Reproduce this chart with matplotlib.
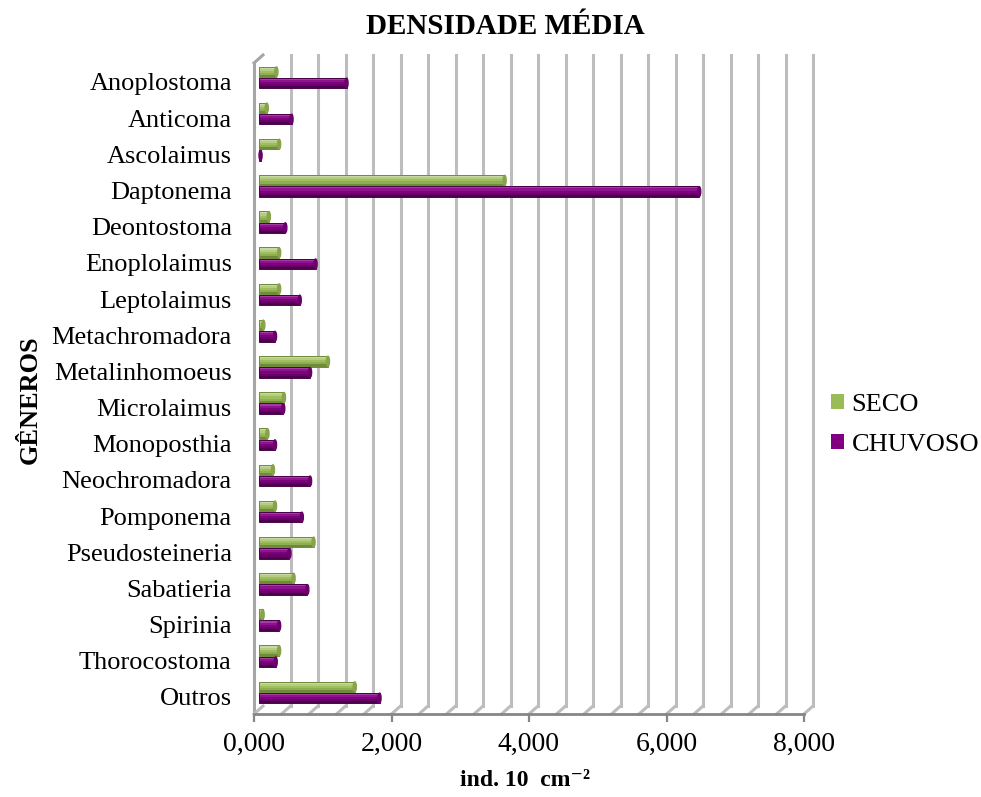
import matplotlib
matplotlib.use("Agg")
import matplotlib.pyplot as plt
from matplotlib.patches import Patch, Ellipse

plt.rcParams['font.family'] = ['Liberation Serif', 'DejaVu Serif']

generos = ['Anoplostoma', 'Anticoma', 'Ascolaimus', 'Daptonema', 'Deontostoma',
           'Enoplolaimus', 'Leptolaimus', 'Metachromadora', 'Metalinhomoeus',
           'Microlaimus', 'Monoposthia', 'Neochromadora', 'Pomponema',
           'Pseudosteineria', 'Sabatieria', 'Spirinia', 'Thorocostoma', 'Outros']
seco = [0.26, 0.12, 0.30, 3.58, 0.15, 0.30, 0.30, 0.07, 1.01, 0.37, 0.13,
        0.21, 0.24, 0.80, 0.51, 0.06, 0.30, 1.40]
chuvoso = [1.28, 0.48, 0.03, 6.41, 0.39, 0.83, 0.60, 0.24, 0.75, 0.36, 0.24,
           0.75, 0.63, 0.45, 0.71, 0.30, 0.25, 1.76]
xticks = [0, 2, 4, 6, 8]
xticklabels = ['0,000', '2,000', '4,000', '6,000', '8,000']

W, H = 981, 797
fig = plt.figure(figsize=(W / 100, H / 100), dpi=100)
ax = fig.add_axes([254 / W, (H - 714) / H, 550 / W, (714 - 55) / H])

y_bot, y_top = 17.47, -0.746
ax.set_xlim(0, 8)
ax.set_ylim(y_bot, y_top)
for s in ax.spines.values():
    s.set_visible(False)

# 3D depth offset of the back wall
dx, dy = 0.131, 0.22
grid_c = '#BDBDBD'
k = 1
while k <= 20:
    gx = 0.4 * k + dx
    ax.plot([gx, gx], [y_bot - dy, y_top], color=grid_c, lw=2.2, clip_on=False, zorder=1)
    ax.plot([gx, gx - dx], [y_bot - dy, y_bot], color=grid_c, lw=2.2, clip_on=False, zorder=1)
    k += 1
# left wall
ax.plot([0, 0], [y_bot, y_top + dy], color='#A6A6A6', lw=2.2, clip_on=False, zorder=1)
ax.plot([0, dx], [y_top + dy, y_top], color='#A6A6A6', lw=2.2, clip_on=False, zorder=1)
ax.plot([0, dx], [y_bot, y_bot - dy], color=grid_c, lw=2.2, clip_on=False, zorder=1)
# front edge of the floor
ax.plot([0, 8], [y_bot, y_bot], color='#868686', lw=2, clip_on=False, zorder=2)


def cylinder(y, w, h, shades, cap):
    n = len(shades)
    left = dx / 2
    for i, c in enumerate(shades):
        yc = y - h / 2 + (i + 0.5) * h / n
        ax.barh(yc, w, height=h / n, left=left, color=c, lw=0, zorder=3)
    ax.barh(y, w, height=h, left=left, facecolor='none', edgecolor=shades[-1],
            lw=0.7, zorder=3.5)
    ax.add_patch(Ellipse((left + w, y), 0.045, h * 0.95, color=cap, zorder=4))


green = ['#C7DBA0', '#B4CD82', '#9FBE5E', '#8FAE4F', '#6F8A38']
purple = ['#A33DA3', '#8F128F', '#800080', '#680068', '#4A004A']
bh = 0.29
for i in range(len(generos)):
    cylinder(i - 0.28, seco[i], bh, green, '#87A34C')
    cylinder(i + 0.03, chuvoso[i], bh, purple, '#6A006A')

ax.set_yticks(range(len(generos)))
ax.set_yticklabels(generos, fontsize=19)
ax.tick_params(axis='y', length=0, pad=16)
ax.set_xticks(xticks)
ax.set_xticklabels(xticklabels, fontsize=20)
ax.tick_params(axis='x', length=6, width=1.6, color='#868686', pad=7)

fig.text(505 / W, 1 - 27 / H, 'DENSIDADE MÉDIA', ha='center', va='center',
         fontsize=21, fontweight='bold')
fig.text(525 / W, 1 - 781 / H, 'ind. 10  cm⁻²', ha='center', va='center',
         fontsize=17, fontweight='bold')
fig.text(30 / W, 1 - 400 / H, 'GÊNEROS', ha='center', va='center', rotation=90,
         fontsize=19, fontweight='bold')

handles = [Patch(facecolor='#9BBB59'), Patch(facecolor='#800080')]
fig.legend(handles, ['SECO', 'CHUVOSO'], loc='center left',
           bbox_to_anchor=(831 / W, 1 - 425 / H), frameon=False, fontsize=19,
           borderpad=0, borderaxespad=0, handlelength=0.5, handleheight=0.5,
           handletextpad=0.28, labelspacing=0.7)

fig.savefig('out.png', dpi=100)
